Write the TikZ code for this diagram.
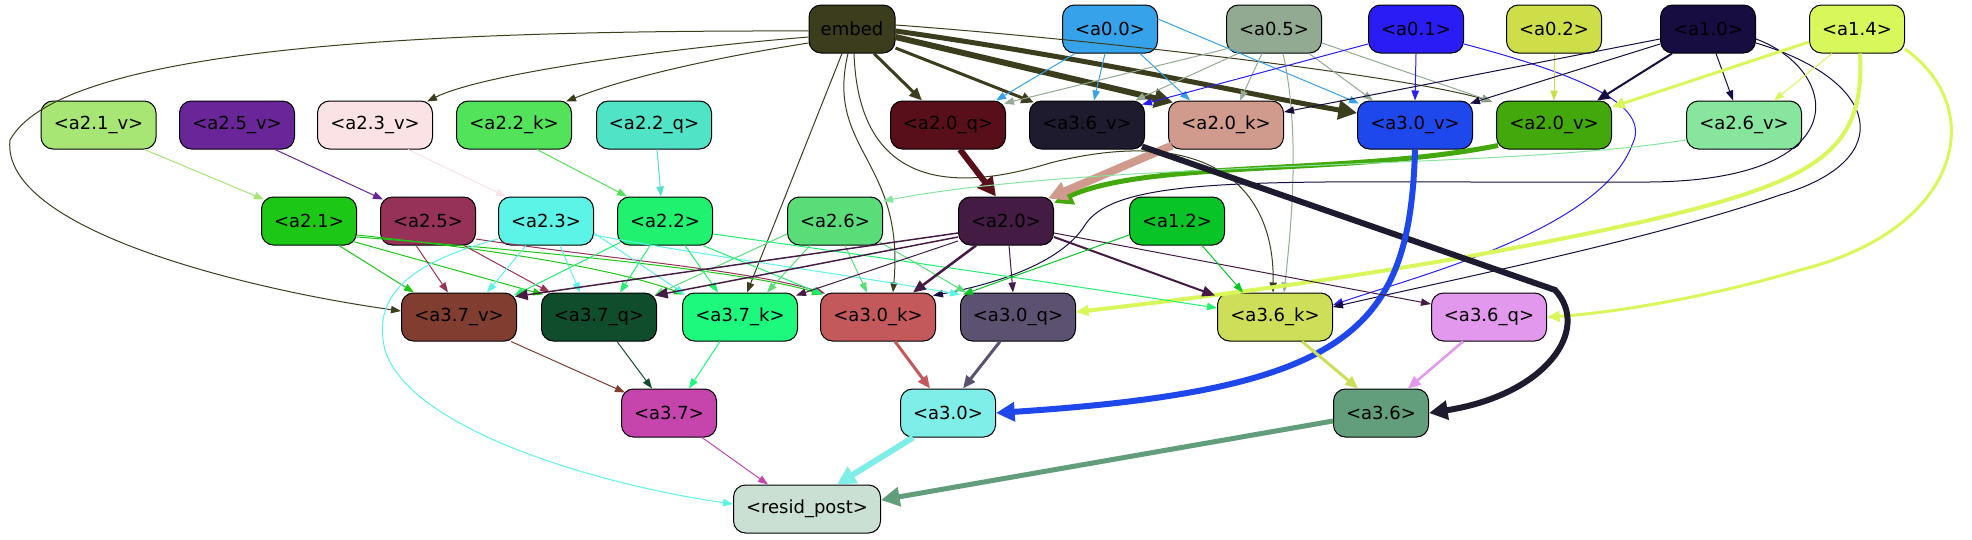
\documentclass[tikz,border=0pt]{standalone}
\usepackage{fontspec}
\setmainfont{DejaVu Sans}
\usetikzlibrary{arrows.meta,calc}
\definecolor{cembed}{HTML}{3C3D1C}
\definecolor{ca00}{HTML}{36A2EA}
\definecolor{ca05}{HTML}{92AA92}
\definecolor{ca01}{HTML}{2A1CF5}
\definecolor{ca02}{HTML}{CDDE49}
\definecolor{ca10}{HTML}{170D40}
\definecolor{ca14}{HTML}{D8F75A}
\definecolor{ca21v}{HTML}{A7E674}
\definecolor{ca25v}{HTML}{6A2698}
\definecolor{ca23v}{HTML}{FBE2E5}
\definecolor{ca22k}{HTML}{53E35A}
\definecolor{ca22q}{HTML}{50E3C6}
\definecolor{ca20q}{HTML}{590F1A}
\definecolor{ca36v}{HTML}{1F1B2F}
\definecolor{ca20k}{HTML}{D09A8C}
\definecolor{ca30v}{HTML}{1E47EC}
\definecolor{ca20v}{HTML}{43A80C}
\definecolor{ca26v}{HTML}{87E59E}
\definecolor{ca21}{HTML}{1CC716}
\definecolor{ca25}{HTML}{963157}
\definecolor{ca23}{HTML}{5DF4E8}
\definecolor{ca22}{HTML}{20F270}
\definecolor{ca26}{HTML}{5ADD79}
\definecolor{ca20}{HTML}{431B43}
\definecolor{ca12}{HTML}{08C426}
\definecolor{ca37v}{HTML}{823D31}
\definecolor{ca37q}{HTML}{0F4D2C}
\definecolor{ca37k}{HTML}{1DF97D}
\definecolor{ca30k}{HTML}{C4595C}
\definecolor{ca30q}{HTML}{5D5172}
\definecolor{ca36k}{HTML}{CFDE58}
\definecolor{ca36q}{HTML}{E298EC}
\definecolor{ca37}{HTML}{C545AD}
\definecolor{ca30}{HTML}{7FEDE8}
\definecolor{ca36}{HTML}{629E7B}
\definecolor{cres}{HTML}{C9E0D3}
\tikzset{
  nd/.style={draw=black, line width=0.75pt, rounded corners=9pt, minimum height=36pt,
    inner sep=0pt, font=\fontsize{13.5pt}{16pt}\selectfont, text=black},
  ws/.style={nd, minimum width=71.25pt},
  wl/.style={nd, minimum width=86.25pt},
  ed/.style={line width=0.75pt, -{Triangle[length=7.5pt,width=5.5pt]}},
  edm/.style={line width=#1, -{Triangle[length=9.5pt,width=8pt]}},
  edt/.style={line width=#1, -{Triangle[length=14pt,width=14pt]}},
}
\begin{document}
\begin{tikzpicture}[x=0.75pt,y=-0.75pt]
\fill[white] (0,0) rectangle (1972,539);
\useasboundingbox (0,0) rectangle (1972,539);
% row 1
\node[nd, minimum width=64.5pt, fill=cembed] (embed) at (852,29) {embed};
\node[ws, fill=ca00] (a00) at (1110,29) {<a0.0>};
\node[ws, fill=ca05] (a05) at (1274,29) {<a0.5>};
\node[ws, fill=ca01] (a01) at (1416,29) {<a0.1>};
\node[ws, fill=ca02] (a02) at (1554,29) {<a0.2>};
\node[ws, fill=ca10] (a10) at (1708,29) {<a1.0>};
\node[ws, fill=ca14] (a14) at (1857,29) {<a1.4>};
% row 2
\node[wl, fill=ca21v] (a21v) at (98.5,125) {<a2.1\_v>};
\node[wl, fill=ca25v] (a25v) at (237,125) {<a2.5\_v>};
\node[wl, fill=ca23v] (a23v) at (375,125) {<a2.3\_v>};
\node[wl, fill=ca22k] (a22k) at (514,125) {<a2.2\_k>};
\node[wl, fill=ca22q] (a22q) at (654,125) {<a2.2\_q>};
\node[wl, fill=ca20q] (a20q) at (948,125) {<a2.0\_q>};
\node[wl, fill=ca36v] (a36v) at (1087,125) {<a3.6\_v>};
\node[wl, fill=ca20k] (a20k) at (1226,125) {<a2.0\_k>};
\node[wl, fill=ca30v] (a30v) at (1415,125) {<a3.0\_v>};
\node[wl, fill=ca20v] (a20v) at (1554,125) {<a2.0\_v>};
\node[wl, fill=ca26v] (a26v) at (1744,125) {<a2.6\_v>};
% row 3
\node[ws, fill=ca21] (a21) at (309,221) {<a2.1>};
\node[ws, fill=ca25] (a25) at (428,221) {<a2.5>};
\node[ws, fill=ca23] (a23) at (546,221) {<a2.3>};
\node[ws, fill=ca22] (a22) at (665,221) {<a2.2>};
\node[ws, fill=ca26] (a26) at (835,221) {<a2.6>};
\node[ws, fill=ca20] (a20) at (1006,221) {<a2.0>};
\node[ws, fill=ca12] (a12) at (1177,221) {<a1.2>};
% row 4
\node[wl, fill=ca37v] (a37v) at (459,317) {<a3.7\_v>};
\node[wl, fill=ca37q] (a37q) at (599,317) {<a3.7\_q>};
\node[wl, fill=ca37k] (a37k) at (740,317) {<a3.7\_k>};
\node[wl, fill=ca30k] (a30k) at (878,317) {<a3.0\_k>};
\node[wl, fill=ca30q] (a30q) at (1018,317) {<a3.0\_q>};
\node[wl, fill=ca36k] (a36k) at (1275,317) {<a3.6\_k>};
\node[wl, fill=ca36q] (a36q) at (1489,317) {<a3.6\_q>};
% row 5
\node[ws, fill=ca37] (a37) at (669,413) {<a3.7>};
\node[ws, fill=ca30] (a30) at (948,413) {<a3.0>};
\node[ws, fill=ca36] (a36) at (1381,413) {<a3.6>};
% row 6
\node[nd, minimum width=110.25pt, fill=cres] (resid) at (807,509) {<resid\_post>};

% ---- edges from embed
\draw[ed, cembed] ($(embed.west)+(0,2)$) .. controls (400,30) and (60,50) .. (10,140) .. controls (0,230) and (250,290) .. ($(a37v.west)+(0,-6)$);
\draw[ed, cembed] ($(embed.west)+(0,8)$) .. controls (650,50) and (480,75) .. ($(a23v.north east)+(-6,1)$);
\draw[ed, cembed] ($(embed.west)+(0,14)$) .. controls (700,60) and (620,80) .. ($(a22k.north east)+(-6,1)$);
\draw[edm=2.25pt, cembed] ($(embed.south)+(22,0)$) -- ($(a20q.north)+(-26,0)$);
\draw[edm=2.25pt, cembed] ($(embed.east)+(0,19)$) -- ($(a36v.north west)+(5,2)$);
\draw[edt=4.5pt, cembed] ($(embed.east)+(0,8)$) -- ($(a20k.north west)+(5,2)$);
\draw[edt=3.75pt, cembed] ($(embed.east)+(0,2)$) .. controls (1100,60) and (1250,95) .. ($(a30v.west)+(0,-12)$);
\draw[ed, cembed] ($(embed.east)+(0,-4)$) .. controls (1100,40) and (1400,75) .. ($(a20v.north west)+(-4,1)$);
\draw[ed, cembed] ($(embed.south)+(-10,0)$) -- ($(a37k.north)+(7,0)$);
\draw[ed, cembed] ($(embed.south)+(-4,0)$) .. controls (825,150) and (905,160) .. ($(a30k.north)+(15,0)$);
\draw[ed, cembed] ($(embed.south)+(2,0)$) .. controls (858,170) and (930,200) .. (1050,163) .. controls (1200,125) and (1275,180) .. ($(a36k.north)+(-2,0)$);
% ---- a0.0
\draw[ed, ca00] ($(a00.south)+(-35,0)$) -- ($(a20q.north east)+(-10,0)$);
\draw[ed, ca00] ($(a00.south)+(-5,0)$) -- ($(a36v.north)+(7,0)$);
\draw[ed, ca00] ($(a00.south)+(30,0)$) -- ($(a20k.north)+(-36,0)$);
\draw[ed, ca00] ($(a00.east)+(0,-10)$) -- ($(a30v.north west)+(2,3)$);
% ---- a0.5
\draw[ed, ca05] ($(a05.south west)+(6,-6)$) -- ($(a20q.north east)+(-2,3)$);
\draw[ed, ca05] ($(a05.south west)+(12,0)$) -- ($(a36v.north east)+(-10,0)$);
\draw[ed, ca05] ($(a05.south)+(-12,0)$) -- ($(a20k.north)+(14,0)$);
\draw[ed, ca05] ($(a05.south)+(35,0)$) -- ($(a30v.north)+(-42,0)$);
\draw[ed, ca05] ($(a05.east)+(0,14)$) -- ($(a20v.north west)+(-4,1)$);
\draw[ed, ca05] ($(a05.south)+(9,0)$) .. controls (1300,130) and (1292,220) .. ($(a36k.north)+(9,0)$);
% ---- a0.1
\draw[ed, ca01] ($(a01.west)+(0,15)$) -- ($(a36v.north east)+(-3,4)$);
\draw[ed, ca01] (a01.south) -- (a30v.north);
\draw[ed, ca01] ($(a01.east)+(0,15)$) .. controls (1600,80) and (1650,110) .. (1632,145) .. controls (1600,230) and (1420,275) .. ($(a36k.east)+(0,-12)$);
% ---- a0.2
\draw[ed, ca02] (a02.south) -- (a20v.north);
% ---- a1.0
\draw[ed, ca10] ($(a10.west)+(0,10)$) -- ($(a20k.east)+(0,-13)$);
\draw[ed, ca10] ($(a10.west)+(0,15)$) -- ($(a30v.north east)+(-3,3)$);
\draw[edm=1.5pt, ca10] ($(a10.south west)+(12,0)$) -- ($(a20v.north east)+(-15,0)$);
\draw[ed, ca10] ($(a10.south)+(8,0)$) -- ($(a26v.north)+(-11,0)$);
\draw[ed, ca10] ($(a10.east)+(0,10)$) .. controls (1840,70) and (1860,180) .. (1650,182) .. controls (1300,184) and (1120,170) .. (1085,225) .. controls (1060,265) and (990,285) .. ($(a30k.north east)+(-3,3)$);
\draw[ed, ca10] ($(a10.east)+(0,14)$) .. controls (1880,80) and (1900,160) .. (1780,195) .. controls (1650,240) and (1450,280) .. ($(a36k.east)+(0,-10)$);
% ---- a1.4
\draw[edm=2.25pt, ca14] ($(a14.west)+(0,13)$) -- ($(a20v.east)+(0,-18)$);
\draw[ed, ca14] ($(a14.south)+(-25,0)$) -- ($(a26v.north east)+(-28,0)$);
\draw[edm=3pt, ca14] ($(a14.south)+(3,0)$) .. controls (1865,150) and (1820,180) .. (1650,220) .. controls (1450,265) and (1250,292) .. ($(a30q.east)+(0,-5)$);
\draw[edm=2.25pt, ca14] ($(a14.east)+(0,20)$) .. controls (1990,110) and (1960,230) .. (1800,270) .. controls (1700,300) and (1600,314) .. (a36q.east);
% ---- row 2 -> row 3
\draw[ed, ca21v] ($(a21v.south east)+(-12,0)$) -- ($(a21.north west)+(3,3)$);
\draw[ed, ca25v] ($(a25v.south east)+(-20,0)$) -- ($(a25.north west)+(3,3)$);
\draw[ed, ca23v] ($(a23v.south east)+(-25,0)$) -- ($(a23.north west)+(8,0)$);
\draw[ed, ca22k] ($(a22k.south east)+(-35,0)$) -- ($(a22.north west)+(10,0)$);
\draw[ed, ca22q] ($(a22q.south)+(3,0)$) -- ($(a22.north)+(-4,0)$);
\draw[edt=4.5pt, ca20q] ($(a20q.south)+(12,0)$) -- ($(a20.north)+(-10,0)$);
\draw[edt=3.75pt, ca20v] ($(a20v.south west)+(2,-4)$) .. controls (1350,175) and (1150,160) .. ($(a20.east)+(0,-18)$);
\draw[edt=6pt, ca20k] ($(a20k.south west)+(4,-4)$) -- ($(a20.north east)+(-6,2)$);
\draw[ed, ca26v] ($(a26v.west)+(0,15)$) .. controls (1500,170) and (1100,160) .. ($(a26.east)+(0,-20)$);
\draw[edt=4.5pt, ca36v] ($(a36v.south east)+(-3,-3)$) -- (1555,290) .. controls (1592,330) and (1545,395) .. (a36.east);
\draw[edt=4.5pt, ca30v] (a30v.south) .. controls (1410,330) and (1350,390) .. (a30.east);
% ---- row 3 -> row 4
\draw[ed, ca21] ($(a21.south)+(30,0)$) -- ($(a37v.north west)+(13,0)$);
\draw[ed, ca21] ($(a21.south east)+(-4,-4)$) -- ($(a37q.north west)+(2,2)$);
\draw[ed, ca21] ($(a21.east)+(0,14)$) .. controls (500,250) and (620,270) .. ($(a37k.north west)+(2,2)$);
\draw[ed, ca21] ($(a21.east)+(0,16)$) .. controls (550,252) and (750,272) .. ($(a30k.north west)+(2,2)$);
\draw[ed, ca25] ($(a25.south)+(-12,0)$) -- ($(a37v.north)+(-11,0)$);
\draw[ed, ca25] ($(a25.south east)+(-12,0)$) -- ($(a37q.north west)+(9,0)$);
\draw[ed, ca25] ($(a25.east)+(0,18)$) .. controls (600,258) and (750,270) .. ($(a30k.north west)+(5,1)$);
\draw[ed, ca23] ($(a23.south)+(-20,0)$) -- ($(a37v.north east)+(-30,0)$);
\draw[ed, ca23] ($(a23.south)+(14,0)$) -- ($(a37q.north)+(-19,0)$);
\draw[ed, ca23] ($(a23.east)+(0,12)$) -- ($(a37k.north west)+(3,2)$);
\draw[ed, ca23] ($(a23.east)+(0,14)$) .. controls (700,255) and (850,275) .. ($(a30q.north west)+(0,2)$);
\draw[ed, ca23] ($(a23.west)+(0,18)$) .. controls (420,260) and (370,290) .. (385,350) .. controls (410,430) and (600,485) .. ($(resid.west)+(0,-5)$);
\draw[ed, ca22] ($(a22.south west)+(3,-3)$) -- ($(a37v.north east)+(-3,3)$);
\draw[ed, ca22] ($(a22.south)+(-15,0)$) -- ($(a37q.north)+(21,0)$);
\draw[ed, ca22] ($(a22.south)+(20,0)$) -- ($(a37k.north)+(-22,0)$);
\draw[ed, ca22] ($(a22.south east)+(-10,0)$) -- ($(a30k.north west)+(3,2)$);
\draw[ed, ca22] ($(a22.east)+(0,13)$) .. controls (900,260) and (1100,290) .. ($(a36k.west)+(0,-9)$);
\draw[ed, ca26] ($(a26.west)+(0,13)$) -- ($(a37q.north east)+(-3,3)$);
\draw[ed, ca26] ($(a26.south)+(-25,0)$) -- ($(a37k.north)+(27,0)$);
\draw[ed, ca26] ($(a26.south)+(10,0)$) -- ($(a30k.north)+(-11,0)$);
\draw[ed, ca26] ($(a26.south east)+(-4,-4)$) -- ($(a30q.north west)+(6,0)$);
\draw[edm=1.1pt, ca20] ($(a20.west)+(0,12)$) -- ($(a37v.north east)+(-2,4)$);
\draw[edm=1.1pt, ca20] ($(a20.west)+(0,16)$) -- ($(a37q.north east)+(-2,3)$);
\draw[ed, ca20] ($(a20.west)+(0,20)$) -- ($(a37k.north east)+(-2,3)$);
\draw[edm=1.9pt, ca20] ($(a20.south)+(-30,0)$) -- ($(a30k.north)+(35,0)$);
\draw[ed, ca20] ($(a20.south)+(3,0)$) -- ($(a30q.north)+(-5,0)$);
\draw[edm=1.5pt, ca20] ($(a20.east)+(0,16)$) -- ($(a36k.north west)+(-2,3)$);
\draw[ed, ca20] ($(a20.east)+(0,12)$) -- ($(a36q.west)+(0,-13)$);
\draw[ed, ca12] ($(a12.south)+(25,0)$) -- ($(a36k.north)+(-32,0)$);
\draw[ed, ca12] ($(a12.west)+(0,14)$) -- ($(a30q.north west)+(3,2)$);
% ---- row 4 -> row 5
\draw[ed, ca37v] ($(a37v.south east)+(-6,0)$) -- ($(a37.north west)+(4,4)$);
\draw[ed, ca37q] ($(a37q.south)+(18,0)$) -- ($(a37.north)+(-17,0)$);
\draw[ed, ca37k] ($(a37k.south)+(-20,0)$) -- ($(a37.north)+(20,0)$);
\draw[edm=2.25pt, ca30k] ($(a30k.south)+(17,0)$) -- ($(a30.north)+(-18,0)$);
\draw[edm=2.25pt, ca30q] ($(a30q.south)+(-18,0)$) -- ($(a30.north)+(15,0)$);
\draw[edm=2.25pt, ca36k] ($(a36k.south)+(27,0)$) -- ($(a36.north)+(-23,0)$);
\draw[edm=1.9pt, ca36q] ($(a36q.south)+(-26,0)$) -- ($(a36.north)+(27,0)$);
% ---- row 5 -> row 6
\draw[ed, ca37] ($(a37.south east)+(-15,0)$) -- ($(resid.north west)+(35,0)$);
\draw[edt=4.5pt, ca30] ($(a30.south)+(-35,0)$) -- ($(resid.north)+(30,0)$);
\draw[edt=3.75pt, ca36] ($(a36.west)+(0,8)$) -- ($(resid.east)+(0,-9)$);
\end{tikzpicture}
\end{document}
